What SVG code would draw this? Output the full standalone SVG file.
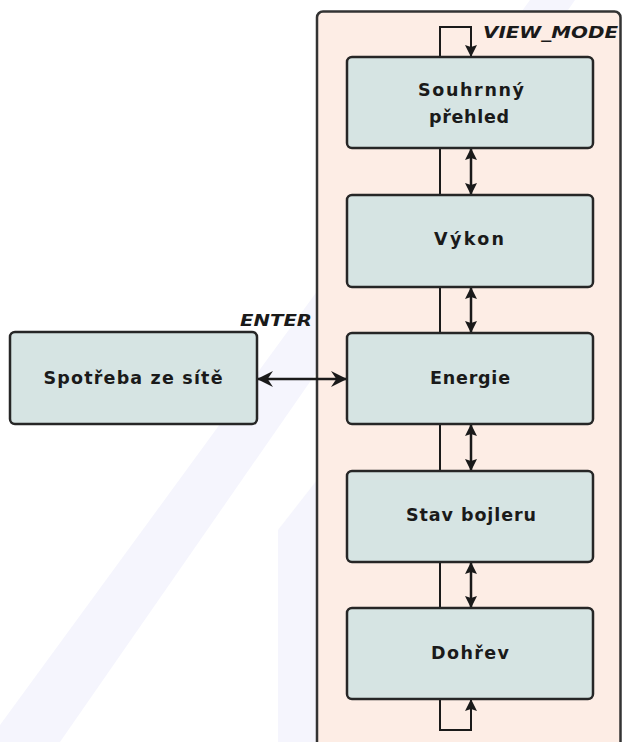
<svg xmlns="http://www.w3.org/2000/svg" width="622" height="742" viewBox="0 0 622 742">
<style>
.node rect{fill:#d6e4e3;stroke:#262626;stroke-width:2.5}
.lbl{font-family:"DejaVu Sans","Liberation Sans",sans-serif;font-weight:bold;font-size:17.5px;fill:#1a1a1a;text-anchor:middle}
.ev{font-family:"DejaVu Sans","Liberation Sans",sans-serif;font-weight:bold;font-style:italic;font-size:16.5px;fill:#1a1a1a}
.ln{fill:none;stroke:#1a1a1a;stroke-width:2}
.ar{fill:none;stroke:#1a1a1a;stroke-width:2.5}
</style>
<defs>
<marker id="ah" viewBox="0 0 12 12" refX="12" refY="6" markerWidth="13" markerHeight="12" markerUnits="userSpaceOnUse" orient="auto-start-reverse">
<path d="M0,0 L12,6 L0,12 L2,6 z" fill="#1a1a1a"/>
</marker>
<marker id="ahs" viewBox="0 0 12 12" refX="12" refY="6" markerWidth="16" markerHeight="16" markerUnits="userSpaceOnUse" orient="auto-start-reverse">
<path d="M0,0 L12,6 L0,12 L4,6 z" fill="#1a1a1a"/>
</marker>
</defs>
<rect width="622" height="742" fill="#ffffff"/>
<g id="watermark" fill="#f5f5fd">
<polygon points="0,725 530,0 575,0 60,742 0,742"/>
<polygon points="278,742 278,530 317,480 317,742"/>
</g>
<g id="container">
<rect x="317" y="11.5" width="303.5" height="780" rx="6" fill="#fdede5" stroke="#333333" stroke-width="2.5"/>
</g>
<g id="connectors">
<path class="ln" d="M440,57 V27 H471 V57" marker-end="url(#ah)"/>
<path class="ln" d="M440,699 V730 H471 V699" marker-end="url(#ah)"/>
<line class="ln" x1="440" y1="148" x2="440" y2="195"/>
<line class="ln" x1="440" y1="287" x2="440" y2="333"/>
<line class="ln" x1="440" y1="424" x2="440" y2="471"/>
<line class="ln" x1="440" y1="562" x2="440" y2="608"/>
<line class="ar" x1="471" y1="148" x2="471" y2="195" marker-start="url(#ah)" marker-end="url(#ah)"/>
<line class="ar" x1="471" y1="287" x2="471" y2="333" marker-start="url(#ah)" marker-end="url(#ah)"/>
<line class="ar" x1="471" y1="424" x2="471" y2="471" marker-start="url(#ah)" marker-end="url(#ah)"/>
<line class="ar" x1="471" y1="562" x2="471" y2="608" marker-start="url(#ah)" marker-end="url(#ah)"/>
<line class="ar" x1="257" y1="379" x2="347" y2="379" marker-start="url(#ahs)" marker-end="url(#ahs)"/>
<text class="ev" x="483" y="38" textLength="135" lengthAdjust="spacingAndGlyphs">VIEW_MODE</text>
<text class="ev" x="240" y="326" textLength="72" lengthAdjust="spacingAndGlyphs">ENTER</text>
</g>
<g id="souhrnny" class="node">
<rect x="347" y="57" width="246" height="91" rx="5"/>
<text class="lbl" x="471" y="96" textLength="106" lengthAdjust="spacing">Souhrnný</text>
<text class="lbl" x="469" y="123" textLength="80" lengthAdjust="spacing">přehled</text>
</g>
<g id="vykon" class="node">
<rect x="347" y="195" width="246" height="92" rx="5"/>
<text class="lbl" x="469" y="245" textLength="70" lengthAdjust="spacing">Výkon</text>
</g>
<g id="energie" class="node">
<rect x="347" y="333" width="246" height="91" rx="5"/>
<text class="lbl" x="470" y="384" textLength="80" lengthAdjust="spacing">Energie</text>
</g>
<g id="stav" class="node">
<rect x="347" y="471" width="246" height="91" rx="5"/>
<text class="lbl" x="471" y="521" textLength="130" lengthAdjust="spacing">Stav bojleru</text>
</g>
<g id="dohrev" class="node">
<rect x="347" y="608" width="246" height="91" rx="5"/>
<text class="lbl" x="470" y="659" textLength="78" lengthAdjust="spacing">Dohřev</text>
</g>
<g id="spotreba" class="node">
<rect x="10" y="332" width="247" height="92" rx="5"/>
<text class="lbl" x="133" y="384" textLength="179" lengthAdjust="spacing">Spotřeba ze sítě</text>
</g>
</svg>
